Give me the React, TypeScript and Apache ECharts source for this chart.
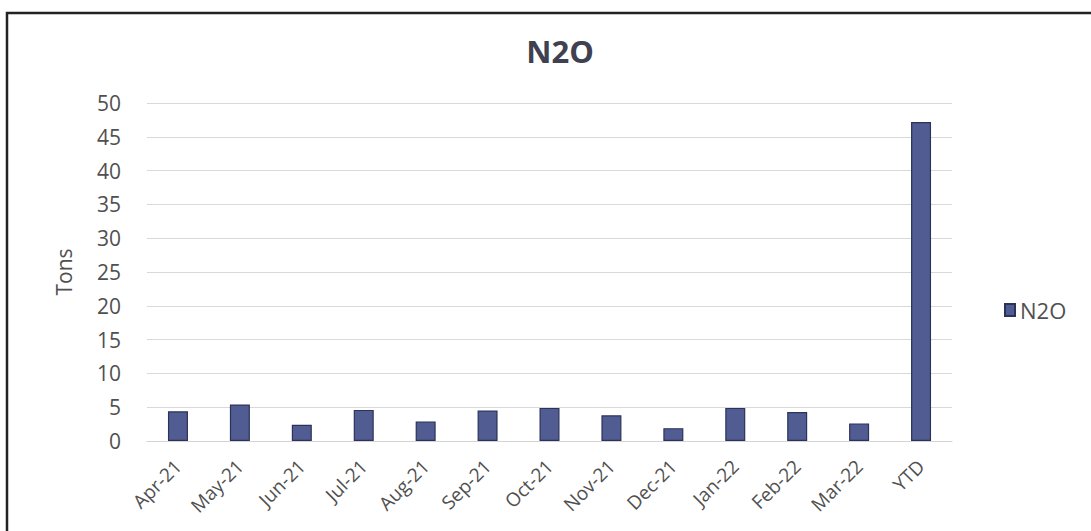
import React, { useEffect, useRef } from "react";
import * as echarts from "echarts";

const categories = [
  "Apr-21", "May-21", "Jun-21", "Jul-21", "Aug-21", "Sep-21",
  "Oct-21", "Nov-21", "Dec-21", "Jan-22", "Feb-22", "Mar-22", "YTD",
];
const n2oValues = [4.4, 5.4, 2.4, 4.6, 2.9, 4.5, 4.9, 3.8, 1.9, 4.9, 4.3, 2.6, 47.2];
const seriesName = "N2O";
const chartTitle = "N2O";
const yAxisName = "Tons";

const FONT = "'Open Sans', 'Noto Sans', sans-serif";

export default function App() {
  const ref = useRef<HTMLDivElement>(null);
  useEffect(() => {
    if (!ref.current) return;
    const chart = echarts.init(ref.current, null, { renderer: "svg" });
    chart.setOption({
      animation: false,
      backgroundColor: "#ffffff",
      textStyle: { fontFamily: FONT },
      title: {
        text: chartTitle,
        left: 555,
        textAlign: "center",
        top: 30,
        textStyle: { fontFamily: FONT, fontSize: 31, fontWeight: "bold", color: "#3f4150" },
      },
      legend: {
        data: [seriesName],
        left: 999,
        top: 294,
        icon: "rect",
        itemWidth: 10,
        itemHeight: 12,
        itemGap: 9,
        textStyle: { fontFamily: FONT, fontSize: 22, color: "#505050" },
      },
      grid: { left: 147, right: 139, top: 103, bottom: 90, containLabel: false },
      xAxis: {
        type: "category",
        data: categories,
        axisLine: { show: true, lineStyle: { color: "#d4d4d4", width: 1 } },
        axisTick: { show: false },
        axisLabel: {
          rotate: 45,
          interval: 0,
          margin: 22,
          fontFamily: FONT,
          fontSize: 19,
          color: "#505050",
        },
      },
      yAxis: {
        type: "value",
        min: 0,
        max: 50,
        interval: 5,
        name: yAxisName,
        nameLocation: "middle",
        nameGap: 73,
        nameRotate: 90,
        nameTextStyle: { fontFamily: FONT, fontSize: 21, color: "#505050" },
        axisLine: { show: false },
        axisTick: { show: false },
        axisLabel: { margin: 26, fontFamily: FONT, fontSize: 21, color: "#505050" },
        splitLine: { lineStyle: { color: "#d9d9d9", width: 1 } },
      },
      series: [
        {
          name: seriesName,
          type: "bar",
          data: n2oValues,
          barWidth: 20,
          itemStyle: { color: "#515d92", borderColor: "#2c3358", borderWidth: 1.2 },
        },
      ],
      graphic: [
        {
          type: "rect",
          shape: { x: 7, y: 13, width: 1120, height: 600 },
          style: { fill: "none", stroke: "#222222", lineWidth: 2.5 },
          silent: true,
        },
      ],
    });
    return () => chart.dispose();
  }, []);
  return (
    <div
      ref={ref}
      style={{ position: "absolute", left: 0, top: 0, width: 1091, height: 531 }}
    />
  );
}
